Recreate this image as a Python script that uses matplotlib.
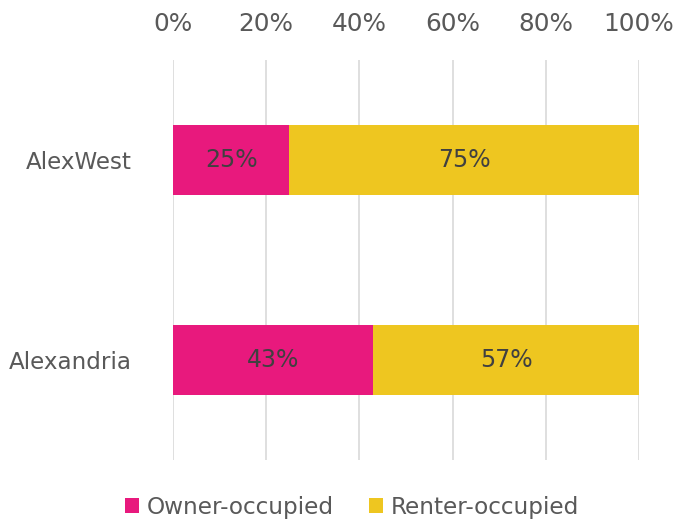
import matplotlib
matplotlib.use("Agg")
import matplotlib.pyplot as plt
from matplotlib.ticker import PercentFormatter

categories = ["AlexWest", "Alexandria"]
owner = [25, 43]
renter = [75, 57]
series_names = ["Owner-occupied", "Renter-occupied"]
x_ticks = [0, 20, 40, 60, 80, 100]

owner_color = "#E8197D"
renter_color = "#EEC620"
text_gray = "#595959"
label_dark = "#404040"

plt.rcParams["font.family"] = ["DejaVu Sans"]

fig = plt.figure(figsize=(6.8, 5.22), dpi=100)
ax = fig.add_axes([0.2544, 0.1188, 0.6853, 0.7662])

y = list(range(len(categories)))
b1 = ax.barh(y, owner, height=0.35, color=owner_color, label=series_names[0], zorder=3)
b2 = ax.barh(y, renter, left=owner, height=0.35, color=renter_color, label=series_names[1], zorder=3)

for vals, lefts in ((owner, [0, 0]), (renter, owner)):
    for yi, v, l in zip(y, vals, lefts):
        ax.text(l + v / 2, yi, f"{v}%", ha="center", va="center",
                fontsize=17, color=label_dark, zorder=4)

ax.set_xlim(0, 100)
ax.set_ylim(1.5, -0.5)
ax.set_xticks(x_ticks)
ax.xaxis.set_major_formatter(PercentFormatter(decimals=0))
ax.xaxis.tick_top()
ax.set_yticks(y)
ax.set_yticklabels(categories)
ax.tick_params(axis="x", length=0, pad=17, labelsize=17.8, labelcolor=text_gray)
ax.tick_params(axis="y", length=0, pad=30, labelsize=16.6, labelcolor=text_gray)
ax.grid(axis="x", color="#D9D9D9", linewidth=1.2, zorder=0)
for s in ax.spines.values():
    s.set_visible(False)

leg = fig.legend(handles=[b1, b2], labels=series_names, loc="center",
                 bbox_to_anchor=(0.518, 0.028), ncol=2, frameon=False,
                 fontsize=16.7, handlelength=0.6, handleheight=0.6,
                 handletextpad=0.35, columnspacing=1.5)
for t in leg.get_texts():
    t.set_color(text_gray)

fig.savefig("out.png", dpi=100)
